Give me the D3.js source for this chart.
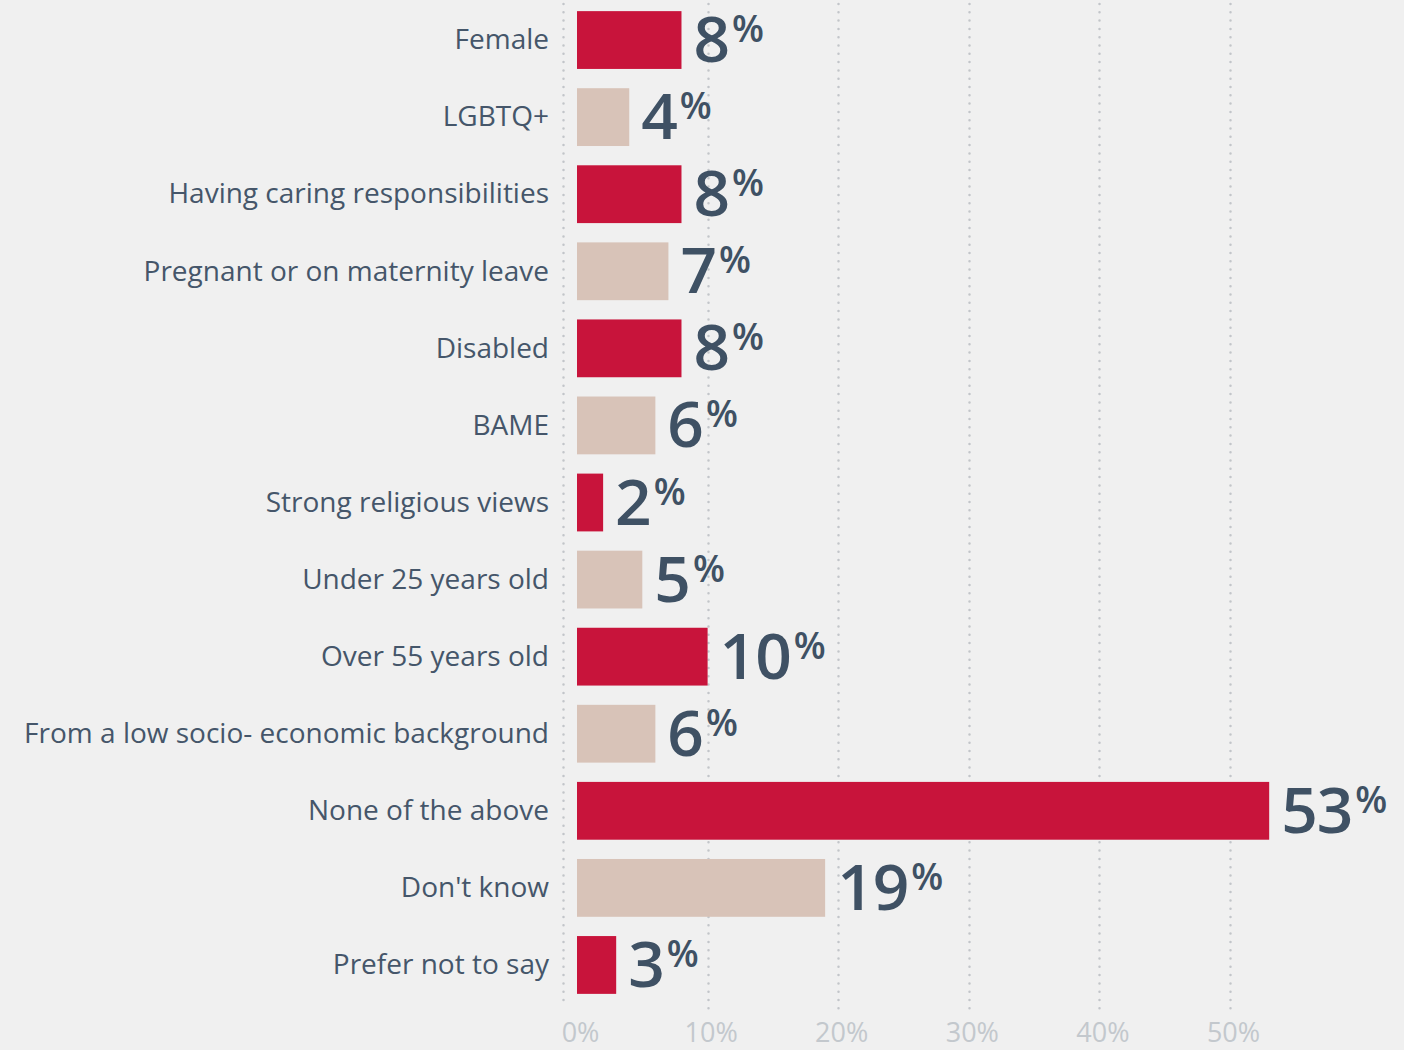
<!DOCTYPE html>
<html>
<head>
<meta charset="utf-8">
<script src="https://cdn.jsdelivr.net/npm/d3@7"></script>
<style>
  html, body { margin: 0; padding: 0; background: #f0f0f0; }
  svg { display: block; }
</style>
</head>
<body>
<svg id="chart" width="1404" height="1050"></svg>
<script>
// Share of respondents by group (percent)
const categories = [
  "Female",
  "LGBTQ+",
  "Having caring responsibilities",
  "Pregnant or on maternity leave",
  "Disabled",
  "BAME",
  "Strong religious views",
  "Under 25 years old",
  "Over 55 years old",
  "From a low socio- economic background",
  "None of the above",
  "Don't know",
  "Prefer not to say"
];
const values = [8, 4, 8, 7, 8, 6, 2, 5, 10, 6, 53, 19, 3];
const tickValues = [0, 10, 20, 30, 40, 50];
const tickLabels = ["0%", "10%", "20%", "30%", "40%", "50%"];

const svg = d3.select("#chart");
const W = 1404, H = 1050;

svg.append("rect").attr("width", W).attr("height", H).attr("fill", "#f0f0f0");

const x = d3.scaleLinear().domain([0, 50]).range([577, 1230]);
const y = d3.scaleBand().domain(categories).range([1.5, 1003.5]).paddingInner(0.25).paddingOuter(0.125);

const colors = ["#c8143b", "#d8c3b8"];
const textDark = "#3f5164";
const labelFont = "'Open Sans', 'Noto Sans', sans-serif";

// Dotted vertical gridlines
const grid = svg.append("g");
grid.append("line")
  .attr("x1", 563.5).attr("x2", 563.5)
  .attr("y1", 4).attr("y2", 1004)
  .attr("stroke", "#c2c5c9").attr("stroke-width", 2.5)
  .attr("stroke-linecap", "round").attr("stroke-dasharray", "0,8.3");
grid.selectAll("line.g")
  .data(tickValues.filter(d => d > 0))
  .join("line")
  .attr("class", "g")
  .attr("x1", d => Math.round(x(d)) + 0.5).attr("x2", d => Math.round(x(d)) + 0.5)
  .attr("y1", 4).attr("y2", 1010)
  .attr("stroke", "#c2c5c9").attr("stroke-width", 2.5)
  .attr("stroke-linecap", "round").attr("stroke-dasharray", "0,8.3");

// Bottom axis tick labels
const xAxis = d3.axisBottom(x)
  .tickValues(tickValues)
  .tickFormat((d, i) => tickLabels[i])
  .tickSize(0).tickPadding(0);
const axisG = svg.append("g").attr("transform", "translate(0,1042)").call(xAxis);
axisG.select(".domain").remove();
axisG.selectAll("text")
  .attr("font-family", labelFont)
  .attr("font-size", 27)
  .attr("fill", "#c3c8cd")
  .attr("dx", 3)
  .attr("y", 0)
  .attr("dy", 0);

// Bars
svg.append("g").selectAll("rect")
  .data(categories)
  .join("rect")
  .attr("x", x(0))
  .attr("y", d => y(d))
  .attr("width", (d, i) => x(values[i]) - x(0))
  .attr("height", y.bandwidth())
  .attr("fill", (d, i) => colors[i % 2]);

// Category labels
svg.append("g").selectAll("text")
  .data(categories)
  .join("text")
  .attr("x", 549)
  .attr("y", d => y(d) + y.bandwidth() / 2)
  .attr("dy", "0.33em")
  .attr("text-anchor", "end")
  .attr("font-family", labelFont)
  .attr("font-size", 28)
  .attr("fill", "#45566a")
  .text(d => d);

// Value labels with raised percent sign
const vl = svg.append("g").selectAll("text")
  .data(categories)
  .join("text")
  .attr("x", (d, i) => x(values[i]) + 12)
  .attr("y", d => y(d) + y.bandwidth() / 2 + 22)
  .attr("font-family", labelFont)
  .attr("font-weight", 600)
  .attr("fill", textDark);
vl.append("tspan")
  .attr("font-size", 64)
  .attr("letter-spacing", -1)
  .text((d, i) => values[i]);
vl.append("tspan")
  .attr("font-size", 37)
  .attr("dx", 3)
  .attr("dy", -20)
  .text("%");
</script>
</body>
</html>
